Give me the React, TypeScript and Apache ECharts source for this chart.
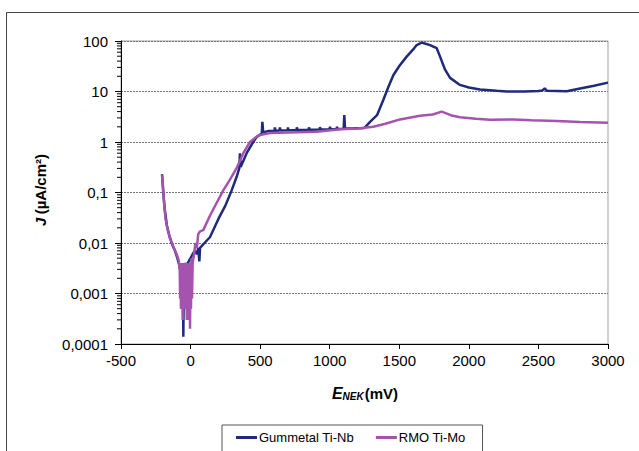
import React, { useEffect, useRef } from "react";
import * as echarts from "echarts";

const xTicks = [-500, 0, 500, 1000, 1500, 2000, 2500, 3000];
const yTickLabels = ["0,0001", "0,001", "0,01", "0,1", "1", "10", "100"];

const gummetalE = [
  -205, -195, -185, -170, -150, -130, -112, -95, -85, -75, -68, -64, -60, -55, -52, -48, -40, -30, -20, -10,
  0, 15, 30, 45, 55, 63, 68, 100, 139, 200, 250, 295, 330, 350, 355, 360, 403, 450, 475, 500, 512, 516, 522,
  560, 603, 606, 610, 639, 642, 646, 697, 700, 704, 761, 764, 768, 848, 851, 855, 927, 930, 934, 999, 1002,
  1006, 1049, 1052, 1056, 1100, 1105, 1110, 1150, 1250, 1290, 1340, 1385, 1420, 1457, 1500, 1553, 1600, 1625,
  1661, 1690, 1721, 1769, 1793, 1829, 1865, 1936, 2000, 2080, 2200, 2272, 2400, 2500, 2530, 2545, 2560, 2703,
  2800, 2900, 3000,
];
const gummetalJ = [
  0.23, 0.09, 0.045, 0.022, 0.013, 0.009, 0.007, 0.005, 0.004, 0.003, 0.0015, 0.0005, 0.003, 0.004, 0.00014,
  0.003, 0.004, 0.0035, 0.004, 0.0045, 0.005, 0.006, 0.007, 0.006, 0.008, 0.0043, 0.008, 0.01, 0.013, 0.03,
  0.055, 0.11, 0.2, 0.3, 0.6, 0.32, 0.6, 1.0, 1.26, 1.4, 1.5, 2.5, 1.55, 1.65, 1.66, 1.95, 1.66, 1.68, 1.95,
  1.68, 1.7, 1.95, 1.7, 1.72, 1.95, 1.72, 1.74, 1.95, 1.74, 1.76, 1.97, 1.76, 1.78, 2.0, 1.78, 1.8, 2.0, 1.8,
  1.82, 3.4, 1.85, 1.85, 1.9, 2.5, 3.4, 6.8, 12, 21, 32, 49, 68, 83, 93, 88, 83, 72, 49, 27, 18.6, 13.5, 12,
  11, 10.3, 10, 10, 10.2, 10.5, 11.5, 10.4, 10.1, 11.5, 13, 15,
];

const rmoE = [
  -205, -200, -190, -180, -160, -140, -120, -100, -85, -78, -75, -72, -69, -66, -63, -60, -57, -54, -51, -48,
  -45, -42, -39, -36, -33, -30, -27, -24, -21, -18, -15, -12, -9, -6, -4, 0, 3, 6, 10, 15, 25, 35, 45, 55, 68,
  91, 140, 187, 235, 283, 330, 379, 427, 470, 499, 571, 700, 905, 1074, 1200, 1313, 1400, 1505, 1649, 1740,
  1805, 1870, 1936, 2050, 2152, 2320, 2450, 2631, 2800, 3000,
];
const rmoJ = [
  0.22, 0.15, 0.06, 0.03, 0.016, 0.011, 0.008, 0.006, 0.0045, 0.003, 0.0008, 0.004, 0.0005, 0.004, 0.0007,
  0.004, 0.0003, 0.004, 0.0006, 0.004, 0.0009, 0.003, 0.0005, 0.004, 0.0008, 0.004, 0.0003, 0.004, 0.0006,
  0.004, 0.0003, 0.004, 0.0005, 0.004, 0.0002, 0.004, 0.0005, 0.005, 0.0008, 0.004, 0.006, 0.01, 0.008, 0.015,
  0.017, 0.018, 0.035, 0.062, 0.11, 0.18, 0.3, 0.6, 1.0, 1.25, 1.38, 1.5, 1.55, 1.6, 1.78, 1.85, 2.0, 2.3,
  2.8, 3.3, 3.5, 4.0, 3.4, 3.1, 2.9, 2.76, 2.8, 2.7, 2.6, 2.5, 2.4,
];

const seriesNames = ["Gummetal Ti-Nb", "RMO Ti-Mo"];
const colors = ["#1f2a7c", "#a653b0"];

const minorTickValues: number[] = [];
for (let d = -4; d < 2; d++) {
  for (let m = 2; m <= 9; m++) minorTickValues.push(Number((m * Math.pow(10, d)).toPrecision(6)));
}

const FONT = "Liberation Sans, Arial, sans-serif";

export default function App() {
  const ref = useRef<HTMLDivElement>(null);
  useEffect(() => {
    if (!ref.current) return;
    const chart = echarts.init(ref.current, null, { renderer: "svg" });
    const fmtY = (v: number) => {
      const lg = Math.round(Math.log10(v));
      const idx = lg + 4;
      return yTickLabels[idx] ?? String(v);
    };
    chart.setOption({
      animation: false,
      backgroundColor: "#fff",
      textStyle: { fontFamily: FONT },
      grid: {
        left: 121,
        top: 41,
        width: 487,
        height: 303,
        show: true,
        borderColor: "#a0a0a0",
        borderWidth: 1,
        backgroundColor: "transparent",
      },
      legend: {
        data: seriesNames,
        left: 222,
        top: 425,
        orient: "horizontal",
        borderColor: "#555",
        borderWidth: 1,
        padding: [6, 17, 30, 14],
        itemGap: 22,
        itemWidth: 21,
        itemHeight: 3,
        icon: "rect",
        textStyle: { fontSize: 13, color: "#000", fontFamily: FONT, padding: [0, 0, 0, -3] },
      },
      xAxis: {
        type: "value",
        min: xTicks[0],
        max: xTicks[xTicks.length - 1],
        interval: 500,
        axisLine: { show: true, onZero: false, lineStyle: { color: "#000", width: 1 } },
        axisTick: { show: true, length: 5, lineStyle: { color: "#000" } },
        axisLabel: { fontSize: 15, color: "#000", margin: 9, fontFamily: FONT, formatter: (v: number) => String(v) },
        splitLine: { show: false },
      },
      yAxis: {
        type: "log",
        logBase: 10,
        min: 0.0001,
        max: 100,
        axisLine: { show: true, onZero: false, lineStyle: { color: "#000", width: 1 } },
        axisTick: { show: true, length: 6, lineStyle: { color: "#000" } },
        axisLabel: { fontSize: 15, color: "#000", margin: 13, fontFamily: FONT, formatter: fmtY },
        splitLine: { show: true, lineStyle: { color: "#777", type: [2, 1], width: 1 } },
      },
      graphic: [
        {
          type: "rect",
          shape: { x: 6.5, y: 12.5, width: 800, height: 600 },
          style: { fill: "none", stroke: "#444", lineWidth: 1 },
          silent: true,
          z: 100,
        },
        {
          type: "text",
          x: 365,
          y: 393,
          style: {
            text: "{e|E}{s|NEK}{n|(mV)}",
            align: "center",
            verticalAlign: "middle",
            fontFamily: FONT,
            rich: {
              e: { fontSize: 16, fontWeight: "bold", fontStyle: "italic", fontFamily: FONT, fill: "#000" },
              s: {
                fontSize: 10,
                fontWeight: "bold",
                fontStyle: "italic",
                fontFamily: FONT,
                fill: "#000",
                verticalAlign: "bottom",
                padding: [6, 1, 0, 0],
              },
              n: { fontSize: 15, fontWeight: "bold", fontFamily: FONT, fill: "#000" },
            },
          },
        },
        {
          type: "text",
          x: 40,
          y: 190,
          rotation: Math.PI / 2,
          style: {
            text: "{j|J} {n|(µA/cm²)}",
            align: "center",
            verticalAlign: "middle",
            fontFamily: FONT,
            rich: {
              j: { fontSize: 15, fontWeight: "bold", fontStyle: "italic", fontFamily: FONT, fill: "#000" },
              n: { fontSize: 15, fontWeight: "bold", fontFamily: FONT, fill: "#000" },
            },
          },
        },
      ],
      series: [
        {
          name: "minor",
          type: "custom",
          silent: true,
          clip: false,
          data: minorTickValues.map((v) => [xTicks[0], v]),
          renderItem: (_params: any, api: any) => {
            const p = api.coord([api.value(0), api.value(1)]);
            return {
              type: "line",
              shape: { x1: p[0] - 4, y1: p[1], x2: p[0], y2: p[1] },
              style: { stroke: "#000", lineWidth: 1 },
            };
          },
          z: 5,
        },
        {
          name: seriesNames[0],
          type: "line",
          data: gummetalE.map((e, i) => [e, gummetalJ[i]]),
          showSymbol: false,
          symbol: "none",
          lineStyle: { color: colors[0], width: 2.5 },
          itemStyle: { color: colors[0] },
          z: 3,
        },
        {
          name: seriesNames[1],
          type: "line",
          data: rmoE.map((e, i) => [e, rmoJ[i]]),
          showSymbol: false,
          symbol: "none",
          lineStyle: { color: colors[1], width: 2.5 },
          itemStyle: { color: colors[1] },
          z: 4,
        },
      ],
    });
    return () => chart.dispose();
  }, []);
  return (
    <div
      ref={ref}
      style={{ position: "fixed", left: 0, top: 0, width: 639, height: 451 }}
    />
  );
}
